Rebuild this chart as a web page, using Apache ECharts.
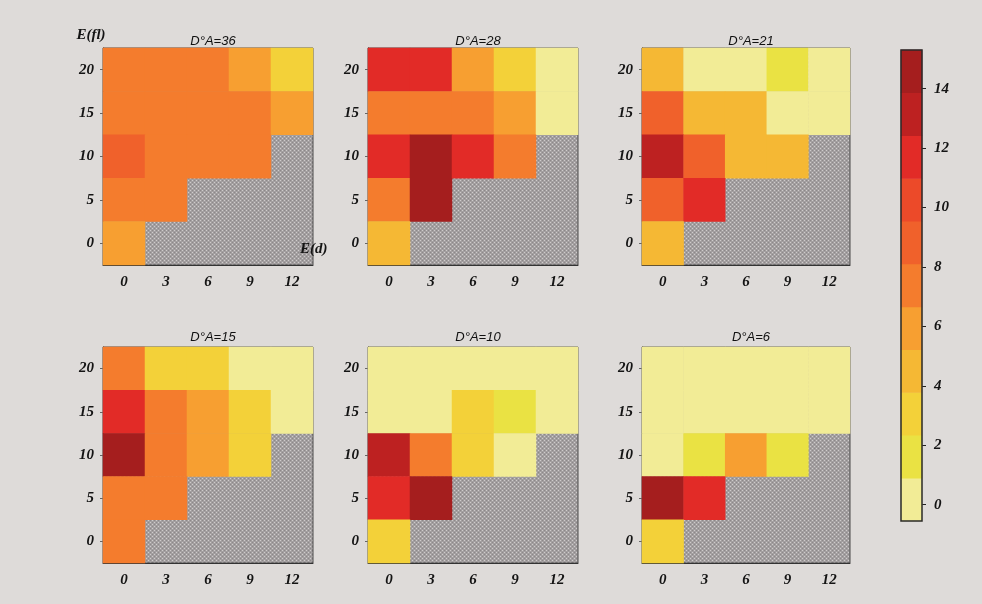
<!DOCTYPE html>
<html>
<head>
<meta charset="utf-8">
<script src="https://cdn.jsdelivr.net/npm/echarts@6/dist/echarts.min.js"></script>
<style>
  html, body { margin: 0; padding: 0; background: #dedbd9; }
  #chart { width: 982px; height: 604px; }
</style>
</head>
<body>
<div id="chart"></div>
<script>
// axes of every panel
const xCats = ['0', '3', '6', '9', '12'];
const yCats = ['0', '5', '10', '15', '20'];
const panelTitles = ['D°A=36', 'D°A=28', 'D°A=21', 'D°A=15', 'D°A=10', 'D°A=6'];

// cell values, rows from E(fl)=20 down to 0, null = no data (grey)
const p36 = [
  [7.3, 7.3, 7.3, 6.0, 3.0],
  [7.3, 7.3, 7.3, 7.3, 6.0],
  [8.8, 7.3, 7.3, 7.3, null],
  [7.3, 7.3, null, null, null],
  [6.0, null, null, null, null]
];
const p28 = [
  [11.7, 11.7, 6.0, 3.0, 0],
  [7.3, 7.3, 7.3, 6.0, 0],
  [12.0, 14.6, 12.0, 7.3, null],
  [7.3, 14.6, null, null, null],
  [4.5, null, null, null, null]
];
const p21 = [
  [4.5, 0, 0, 1.6, 0],
  [8.8, 4.5, 4.5, 0, 0],
  [13.2, 8.8, 4.5, 4.5, null],
  [8.8, 11.7, null, null, null],
  [4.5, null, null, null, null]
];
const p15 = [
  [7.3, 3.0, 3.0, 0, 0],
  [11.7, 7.3, 6.0, 3.0, 0],
  [14.6, 7.3, 6.0, 3.0, null],
  [7.3, 7.3, null, null, null],
  [7.3, null, null, null, null]
];
const p10 = [
  [0, 0, 0, 0, 0],
  [0, 0, 3.0, 1.6, 0],
  [13.2, 7.3, 3.0, 0, null],
  [11.7, 14.6, null, null, null],
  [3.0, null, null, null, null]
];
const p6 = [
  [0, 0, 0, 0, 0],
  [0, 0, 0, 0, 0],
  [0, 1.6, 6.0, 1.6, null],
  [14.6, 11.7, null, null, null],
  [3.0, null, null, null, null]
];
const panels = [p36, p28, p21, p15, p10, p6];

// colour bar levels and colours (low to high)
const levels = [-0.55, 0.9, 2.3, 3.75, 5.2, 6.6, 8.0, 9.5, 11.0, 12.5, 13.9, 15.3];
const levelColors = ['#f2ec96', '#eae243', '#f3d139', '#f5b834', '#f79f31', '#f47c2d',
  '#f0612b', '#ec4a29', '#e22b27', '#bd2121', '#a51e1e'];
const barTicks = [0, 2, 4, 6, 8, 10, 12, 14];

// grey dotted fill for empty cells
const pat = document.createElement('canvas');
pat.width = 4; pat.height = 4;
const pc = pat.getContext('2d');
pc.fillStyle = '#a39fa0'; pc.fillRect(0, 0, 4, 4);
pc.fillStyle = '#cfcccc'; pc.fillRect(0, 0, 1, 1); pc.fillRect(2, 2, 1, 1);
pc.fillStyle = '#8c8889'; pc.fillRect(2, 0, 1, 1); pc.fillRect(0, 2, 1, 1);

const lefts = [103, 368, 642];
const widths = [210, 210, 208];
const tops = [48, 347];
const heights = [217, 216];

const labelFont = { fontFamily: 'Liberation Serif', fontStyle: 'italic', fontWeight: 'bold', fontSize: 15, color: '#141414' };

const grids = [], xAxes = [], yAxes = [], titles = [], series = [];
panels.forEach((m, i) => {
  const c = i % 3, r = Math.floor(i / 3);
  grids.push({
    left: lefts[c], top: tops[r], width: widths[c], height: heights[r],
    show: true, backgroundColor: { image: pat, repeat: 'repeat' },
    borderColor: '#4a4a4a', borderWidth: 1
  });
  xAxes.push({
    type: 'category', data: xCats, gridIndex: i,
    axisLine: { show: true, lineStyle: { color: '#333' } },
    axisTick: { show: false },
    axisLabel: Object.assign({ margin: 10 }, labelFont),
    splitLine: { show: false }
  });
  yAxes.push({
    type: 'category', data: yCats, gridIndex: i,
    name: i === 0 ? 'E(fl)' : '',
    nameLocation: 'end', nameGap: 5,
    nameTextStyle: Object.assign({ padding: [0, 24, 0, 0] }, labelFont),
    axisLine: { show: true, lineStyle: { color: '#333' } },
    axisTick: { show: true, length: 3, alignWithLabel: true, lineStyle: { color: '#666' } },
    axisLabel: Object.assign({ margin: 9 }, labelFont),
    splitLine: { show: false }
  });
  titles.push({
    text: panelTitles[i],
    left: lefts[c] + widths[c] / 2, top: r === 0 ? 30 : 326, textAlign: 'center',
    textStyle: { fontFamily: 'Liberation Sans', fontStyle: 'italic', fontWeight: 'normal', fontSize: 13, color: '#111' }
  });
  const data = [];
  m.forEach((row, ri) => {
    row.forEach((v, xi) => {
      if (v !== null) data.push([xi, 4 - ri, v]);
    });
  });
  series.push({
    type: 'heatmap', xAxisIndex: i, yAxisIndex: i, data: data,
    itemStyle: { borderWidth: 0 }, emphasis: { disabled: true }
  });
});

// colour bar: one column of cells plus a value axis for its ticks
const bandNames = levelColors.map((_, k) => 'b' + k);
grids.push({
  left: 901, top: 50, width: 21, height: 471, show: true, z: 5,
  backgroundColor: 'transparent', borderColor: '#2a2a2a', borderWidth: 1.5
});
xAxes.push({ type: 'category', data: ['cb'], gridIndex: 6, show: false });
yAxes.push({ type: 'category', data: bandNames, gridIndex: 6, show: false });
yAxes.push({
  type: 'value', gridIndex: 6, position: 'right', min: levels[0], max: levels[levels.length - 1],
  splitNumber: 8,
  axisLine: { show: false },
  axisTick: { show: true, length: 4, lineStyle: { color: '#222' } },
  axisLabel: Object.assign({ margin: 12, showMinLabel: false, showMaxLabel: false,
    formatter: v => (barTicks.indexOf(v) >= 0 ? String(v) : '') }, labelFont),
  splitLine: { show: false }
});
series.push({
  type: 'heatmap', xAxisIndex: 6, yAxisIndex: 6,
  data: bandNames.map((_, k) => [0, k, (levels[k] + levels[k + 1]) / 2]),
  itemStyle: { borderWidth: 0 }, emphasis: { disabled: true }
});

const chart = echarts.init(document.getElementById('chart'));
chart.setOption({
  backgroundColor: '#dedbd9',
  animation: false,
  title: titles,
  grid: grids,
  xAxis: xAxes,
  yAxis: yAxes,
  visualMap: {
    type: 'piecewise', show: false,
    seriesIndex: [0, 1, 2, 3, 4, 5, 6],
    pieces: levelColors.map((col, k) => ({ gte: levels[k], lt: levels[k + 1], color: col }))
  },
  graphic: [{
    type: 'text', left: 300, top: 242, z: 100,
    style: { text: 'E(d)', fill: '#141414', font: 'italic bold 15px "Liberation Serif"' }
  }],
  series: series
});
</script>
</body>
</html>
